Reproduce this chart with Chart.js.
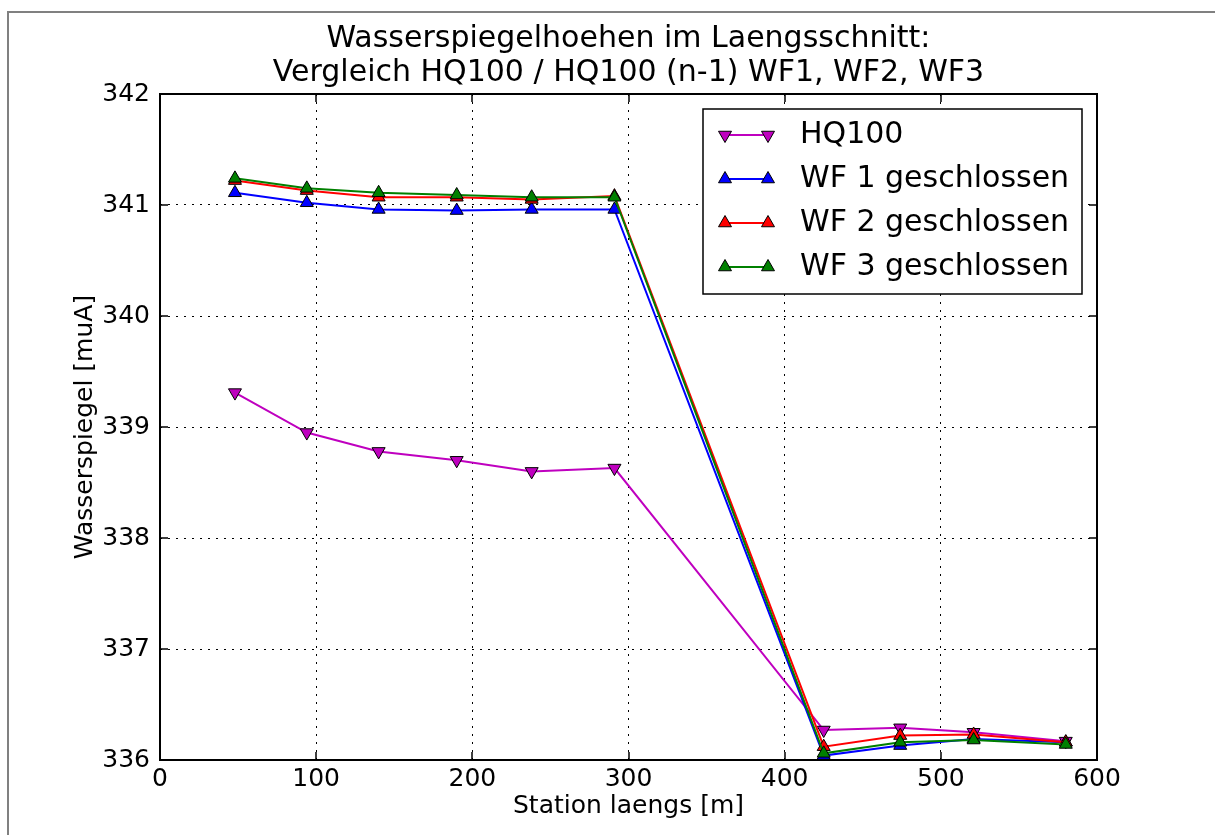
<!DOCTYPE html>
<html>
<head>
<meta charset="utf-8">
<title>Wasserspiegelhoehen im Laengsschnitt</title>
<script src="https://cdn.jsdelivr.net/npm/chart.js@4/dist/chart.umd.min.js"></script>
<style>
  html, body { margin: 0; padding: 0; background: #fff; }
  #wrap { width: 1215px; height: 835px; position: relative; }
</style>
</head>
<body>
<div id="wrap"><canvas id="chart"></canvas></div>
<script>
// Stationen entlang des Laengsschnitts [m]
const stations = [48, 94, 140, 190, 238, 291, 425, 474, 521, 580];

// Wasserspiegel [muA]
const hq100 = [339.31, 338.95, 338.78, 338.70, 338.60, 338.63, 336.27, 336.29, 336.25, 336.17];
const wf1   = [341.11, 341.02, 340.96, 340.95, 340.96, 340.96, 336.04, 336.13, 336.19, 336.16];
const wf2   = [341.22, 341.13, 341.07, 341.07, 341.05, 341.08, 336.12, 336.22, 336.23, 336.16];
const wf3   = [341.24, 341.15, 341.11, 341.09, 341.07, 341.07, 336.06, 336.16, 336.18, 336.14];

const seriesLabels = ['HQ100', 'WF 1 geschlossen', 'WF 2 geschlossen', 'WF 3 geschlossen'];
const seriesColors = ['#bf00bf', '#0000ff', '#ff0000', '#008000'];

const xTickValues = [0, 100, 200, 300, 400, 500, 600];
const yTickValues = [336, 337, 338, 339, 340, 341, 342];

const titleLines = ['Wasserspiegelhoehen im Laengsschnitt:', 'Vergleich HQ100 / HQ100 (n-1) WF1, WF2, WF3'];
const xTitle = 'Station laengs [m]';
const yTitle = 'Wasserspiegel [muA]';

const FONT = "'DejaVu Sans', 'Liberation Sans', sans-serif";

function toPoints(values) {
  return stations.map((s, i) => ({ x: s, y: values[i] }));
}

function makeDataset(idx, values, rotation, order) {
  return {
    label: seriesLabels[idx],
    data: toPoints(values),
    borderColor: seriesColors[idx],
    backgroundColor: seriesColors[idx],
    borderWidth: 2,
    tension: 0,
    pointStyle: 'triangle',
    pointRotation: rotation,
    pointRadius: 7.5,
    pointHoverRadius: 7.5,
    pointBackgroundColor: seriesColors[idx],
    pointBorderColor: '#000',
    pointBorderWidth: 1,
    order: order,
    clip: false
  };
}

// Grauer Rahmen um die Abbildung
const figureFrame = {
  id: 'figureFrame',
  beforeDraw(chart) {
    const ctx = chart.ctx;
    ctx.save();
    ctx.fillStyle = '#fff';
    ctx.fillRect(0, 0, chart.width, chart.height);
    ctx.strokeStyle = '#808080';
    ctx.lineWidth = 2;
    ctx.beginPath();
    ctx.moveTo(8, chart.height);
    ctx.lineTo(8, 12);
    ctx.lineTo(chart.width, 12);
    ctx.stroke();
    ctx.restore();
  }
};

// Achsenrahmen mit nach innen zeigenden Tickmarken
const axesBox = {
  id: 'axesBox',
  afterDatasetsDraw(chart) {
    const { ctx, chartArea: a, scales } = chart;
    const xs = scales.x, ys = scales.y;
    const tl = 8;
    ctx.save();
    ctx.strokeStyle = '#000';
    ctx.lineWidth = 1.5;
    ctx.beginPath();
    xs.ticks.forEach(t => {
      const px = Math.round(xs.getPixelForValue(t.value));
      ctx.moveTo(px, a.bottom); ctx.lineTo(px, a.bottom - tl);
      ctx.moveTo(px, a.top); ctx.lineTo(px, a.top + tl);
    });
    ys.ticks.forEach(t => {
      const py = Math.round(ys.getPixelForValue(t.value));
      ctx.moveTo(a.left, py); ctx.lineTo(a.left + tl, py);
      ctx.moveTo(a.right, py); ctx.lineTo(a.right - tl, py);
    });
    ctx.stroke();
    ctx.lineWidth = 2;
    ctx.strokeRect(a.left, a.top, a.right - a.left, a.bottom - a.top);
    ctx.restore();
  }
};

// Legende: Linie mit Markern an beiden Enden
const lineLegend = {
  id: 'lineLegend',
  afterDraw(chart) {
    const ctx = chart.ctx;
    const box = { x: 703, y: 109, w: 379, h: 185 };
    ctx.save();
    ctx.fillStyle = '#fff';
    ctx.fillRect(box.x, box.y, box.w, box.h);
    ctx.strokeStyle = '#000';
    ctx.lineWidth = 1.5;
    ctx.strokeRect(box.x, box.y, box.w, box.h);
    chart.data.datasets.forEach((ds, i) => {
      const cy = 135 + i * 44;
      const x1 = 725, x2 = 768;
      ctx.strokeStyle = ds.borderColor;
      ctx.lineWidth = ds.borderWidth;
      ctx.beginPath();
      ctx.moveTo(x1, cy); ctx.lineTo(x2, cy);
      ctx.stroke();
      [x1, x2].forEach(px => {
        ctx.fillStyle = ds.pointBackgroundColor;
        ctx.strokeStyle = ds.pointBorderColor;
        ctx.lineWidth = ds.pointBorderWidth;
        Chart.helpers.drawPoint(ctx, {
          pointStyle: ds.pointStyle,
          rotation: ds.pointRotation,
          radius: ds.pointRadius,
          borderWidth: ds.pointBorderWidth
        }, px, cy);
      });
      ctx.fillStyle = '#000';
      ctx.font = '30px ' + FONT;
      ctx.textBaseline = 'middle';
      ctx.textAlign = 'left';
      ctx.fillText(ds.label, 800, cy);
    });
    ctx.restore();
  }
};

new Chart(document.getElementById('chart'), {
  type: 'line',
  data: {
    datasets: [
      makeDataset(0, hq100, 180, 3),
      makeDataset(1, wf1, 0, 2),
      makeDataset(2, wf2, 0, 1),
      makeDataset(3, wf3, 0, 0)
    ]
  },
  options: {
    responsive: true,
    maintainAspectRatio: false,
    animation: false,
    events: [],
    layout: { padding: { left: 0, right: 118, top: 0, bottom: 0 } },
    plugins: {
      legend: { display: false },
      tooltip: { enabled: false },
      title: {
        display: true,
        text: titleLines,
        fullSize: false,
        color: '#000',
        font: { family: FONT, size: 30, weight: 'normal', lineHeight: '34px' },
        padding: { top: 22, bottom: 4 }
      }
    },
    scales: {
      x: {
        type: 'linear',
        min: 0,
        max: 600,
        afterBuildTicks: s => { s.ticks = xTickValues.map(v => ({ value: v })); },
        afterFit: s => { s.height = 75; },
        ticks: {
          color: '#000',
          font: { family: FONT, size: 25 },
          padding: 4,
          maxRotation: 0,
          callback: v => String(v)
        },
        grid: { color: '#000', lineWidth: 1, drawTicks: false },
        border: { display: false, dash: [2, 6] },
        title: {
          display: true,
          text: xTitle,
          color: '#000',
          font: { family: FONT, size: 25 },
          padding: { top: 0, bottom: 14 }
        }
      },
      y: {
        type: 'linear',
        min: 336,
        max: 342,
        afterBuildTicks: s => { s.ticks = yTickValues.map(v => ({ value: v })); },
        afterFit: s => { s.width = 160; },
        ticks: {
          color: '#000',
          font: { family: FONT, size: 25 },
          padding: 10,
          callback: v => String(v)
        },
        grid: { color: '#000', lineWidth: 1, drawTicks: false },
        border: { display: false, dash: [2, 6] },
        title: {
          display: true,
          text: yTitle,
          color: '#000',
          font: { family: FONT, size: 25 },
          padding: { top: 70, bottom: 0 }
        }
      }
    }
  },
  plugins: [figureFrame, axesBox, lineLegend]
});
</script>
</body>
</html>
